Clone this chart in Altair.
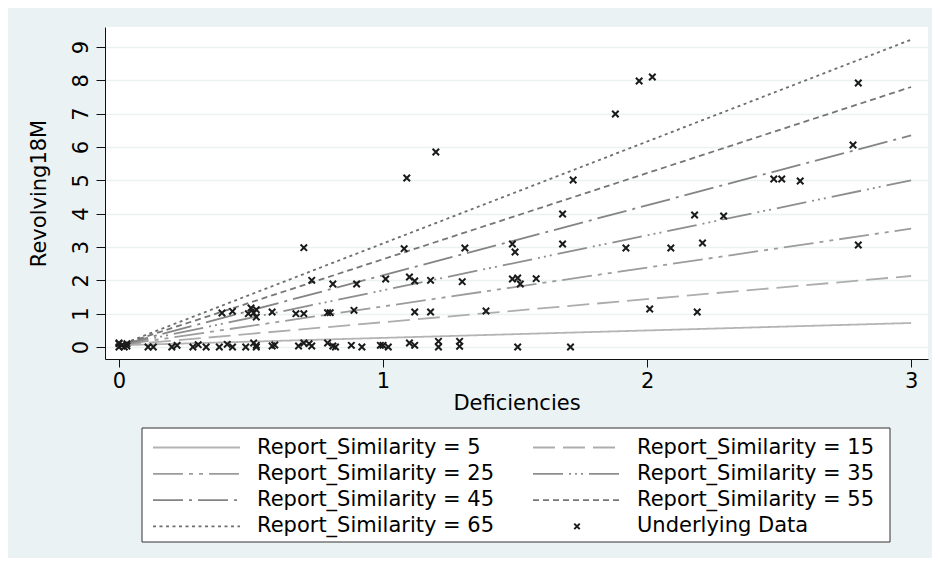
import altair as alt
import pandas as pd

# ---- data ----
rs_levels = [5, 15, 25, 35, 45, 55, 65]
line_x_start = [0.0, 0.0, 0.0, 0.0, 0.0, 0.0, 0.0]
line_x_end = [3.0, 3.0, 3.0, 3.0, 3.0, 3.0, 3.0]
line_y_start = [0.05, 0.05, 0.05, 0.05, 0.05, 0.05, 0.05]
line_y_end = [0.72, 2.13, 3.55, 5.0, 6.35, 7.8, 9.22]

def_x = [0.0, 0.0, 0.01, 0.02, 0.03, 0.0, 0.03, 0.11, 0.13, 0.2, 0.22, 0.28, 0.3, 0.33,
         0.38, 0.41, 0.43, 0.48, 0.51, 0.52, 0.52, 0.58, 0.59, 0.68, 0.7, 0.72, 0.73,
         0.79, 0.81, 0.82, 0.88, 0.92, 0.99, 1.0, 1.02, 1.1, 1.12, 1.21, 1.21, 1.29,
         1.29, 1.51, 1.71,
         0.39, 0.43, 0.49, 0.5, 0.52, 0.52, 0.51, 0.58, 0.67, 0.7, 0.79, 0.8, 0.89,
         1.12, 1.18, 1.39, 2.01, 2.19,
         0.73, 0.81, 0.9, 1.01, 1.1, 1.12, 1.18, 1.3, 1.49, 1.51, 1.52, 1.58,
         0.7, 1.08, 1.31, 1.49, 1.5, 1.68, 1.92, 2.09, 2.21, 2.8,
         1.68, 2.18, 2.29,
         1.09, 1.72, 2.48, 2.51, 2.58,
         1.2, 1.88, 1.97, 2.02, 2.8, 2.78]
rev_y = [0.0, 0.1, 0.05, 0.0, 0.03, 0.12, 0.1, 0.0, 0.0, 0.0, 0.05, 0.0, 0.07, 0.0,
         0.0, 0.08, 0.0, 0.0, 0.12, 0.0, 0.05, 0.03, 0.06, 0.03, 0.12, 0.1, 0.03,
         0.12, 0.03, 0.0, 0.05, 0.0, 0.05, 0.05, 0.0, 0.12, 0.05, 0.17, 0.0, 0.17,
         0.02, 0.0, 0.0,
         1.02, 1.07, 1.0, 1.17, 1.12, 0.9, 1.02, 1.05, 1.0, 1.0, 1.03, 1.03, 1.1,
         1.05, 1.05, 1.08, 1.14, 1.05,
         2.0, 1.89, 1.89, 2.04, 2.1, 1.98, 2.0, 1.96, 2.04, 2.07, 1.89, 2.05,
         2.98, 2.95, 2.97, 3.09, 2.85, 3.09, 2.97, 2.97, 3.12, 3.06,
         3.99, 3.96, 3.93,
         5.07, 5.01, 5.04, 5.04, 4.98,
         5.85, 6.99, 7.98, 8.1, 7.92, 6.06]

x_ticks = [0, 1, 2, 3]
y_ticks = [0, 1, 2, 3, 4, 5, 6, 7, 8, 9]
x_title = "Deficiencies"
y_title = "Revolving18M"
scatter_label = "Underlying Data"

# ---- styles ----
FONT = "DejaVu Sans"
FS = 21
TXT = "#000000"
line_labels = [f"Report_Similarity = {v}" for v in rs_levels]
line_dashes = [[1, 0], [22, 8], [30, 6, 4, 6, 4, 6], [30, 6, 2, 4, 2, 4, 2, 6],
               [30, 6, 3, 6], [6, 4], [3, 3.5]]
line_colors = ["#b4b4b4", "#adadad", "#9c9c9c", "#8e8e8e", "#848484", "#767676", "#6e6e6e"]
X_MARK = "M-1,-1L1,1M-1,1L1,-1"

rows = []
for lab, xs, xe, ys, ye in zip(line_labels, line_x_start, line_x_end, line_y_start, line_y_end):
    rows.append({"label": lab, "x": xs, "y": ys})
    rows.append({"label": lab, "x": xe, "y": ye})
lines_df = pd.DataFrame(rows)
pts_df = pd.DataFrame({"x": def_x, "y": rev_y})

x_scale = alt.Scale(domain=[-0.053, 3.064], nice=False, zero=False)
y_scale = alt.Scale(domain=[-0.36, 9.6], nice=False, zero=False)
dash_scale = alt.Scale(domain=line_labels, range=line_dashes)
color_scale = alt.Scale(domain=line_labels, range=line_colors)

x_axis = alt.Axis(values=x_ticks, tickCount=4, grid=False, title=x_title, format="d",
                  labelOverlap=False,
                  labelFont=FONT, labelFontSize=FS, titleFont=FONT, titleFontSize=FS,
                  titleFontWeight="normal", titleColor=TXT, labelColor=TXT,
                  domainColor="#111", tickColor="#111", tickSize=8, labelPadding=3,
                  titlePadding=1)
y_axis = alt.Axis(values=y_ticks, tickCount=10, grid=True, gridColor="#eaf2f3", gridWidth=1.5,
                  title=y_title, format="d", labelAngle=270, labelAlign="center",
                  labelBaseline="bottom", labelOverlap=False,
                  labelFont=FONT, labelFontSize=FS, titleFont=FONT, titleFontSize=FS,
                  titleFontWeight="normal", titleColor=TXT, labelColor=TXT,
                  domainColor="#111", tickColor="#111", tickSize=9, labelPadding=5,
                  titlePadding=21)

lines = alt.Chart(lines_df).mark_line(strokeWidth=1.8).encode(
    x=alt.X("x:Q", scale=x_scale, axis=x_axis),
    y=alt.Y("y:Q", scale=y_scale, axis=y_axis),
    strokeDash=alt.StrokeDash("label:N", scale=dash_scale, legend=None),
    color=alt.Color("label:N", scale=color_scale, legend=None),
)

points = alt.Chart(pts_df).mark_point(shape=X_MARK, filled=False, strokeWidth=2,
                                      size=42, color="#1a1a1a", opacity=1).encode(
    x=alt.X("x:Q", scale=x_scale, axis=x_axis),
    y=alt.Y("y:Q", scale=y_scale, axis=y_axis))

# ---- hand-built legend below the plot (pixel layout) ----
all_labels = line_labels + [scatter_label]
leg_rows = []
for i, lab in enumerate(all_labels):
    col, row = i % 2, i // 2
    leg_rows.append({"label": lab, "xs": 48 + 380 * col, "xe": 135 + 380 * col,
                     "xm": 92 + 380 * col, "yy": 420.5 + 26.3 * row,
                     "tx": 152 + 380 * col})
leg_df = pd.DataFrame(leg_rows)

box = alt.Chart(pd.DataFrame({"a": [0]})).mark_rect(
    fill="white", stroke="#333", strokeWidth=1).encode(
    x=alt.value(37), x2=alt.value(785), y=alt.value(401), y2=alt.value(515))

leg_lines = alt.Chart(leg_df[leg_df.label != scatter_label]).mark_rule(strokeWidth=1.8).encode(
    x=alt.X("xs:Q", scale=None), x2="xe:Q",
    y=alt.Y("yy:Q", scale=None),
    strokeDash=alt.StrokeDash("label:N", scale=dash_scale, legend=None),
    color=alt.Color("label:N", scale=color_scale, legend=None),
)
leg_point = alt.Chart(leg_df[leg_df.label == scatter_label]).mark_point(
    shape=X_MARK, filled=False, strokeWidth=2, size=30, color="#1a1a1a", opacity=1).encode(
    x=alt.X("xm:Q", scale=None), y=alt.Y("yy:Q", scale=None))
leg_text = alt.Chart(leg_df).mark_text(align="left", baseline="middle", font=FONT,
                                       fontSize=FS, color=TXT).encode(
    x=alt.X("tx:Q", scale=None), y=alt.Y("yy:Q", scale=None), text="label:N")

chart = alt.layer(lines, points, box, leg_lines, leg_point, leg_text).properties(
    width=823, height=332,
    autosize=alt.AutoSizeParams(type="none"),
    padding={"left": 97, "top": 19, "right": 4, "bottom": 199},
    background="#eaf2f3",
).configure_view(fill="white", strokeWidth=0).configure_axis(labelOverlap=False)

chart.save("out.html", embed_options={"renderer": "svg", "actions": False})
